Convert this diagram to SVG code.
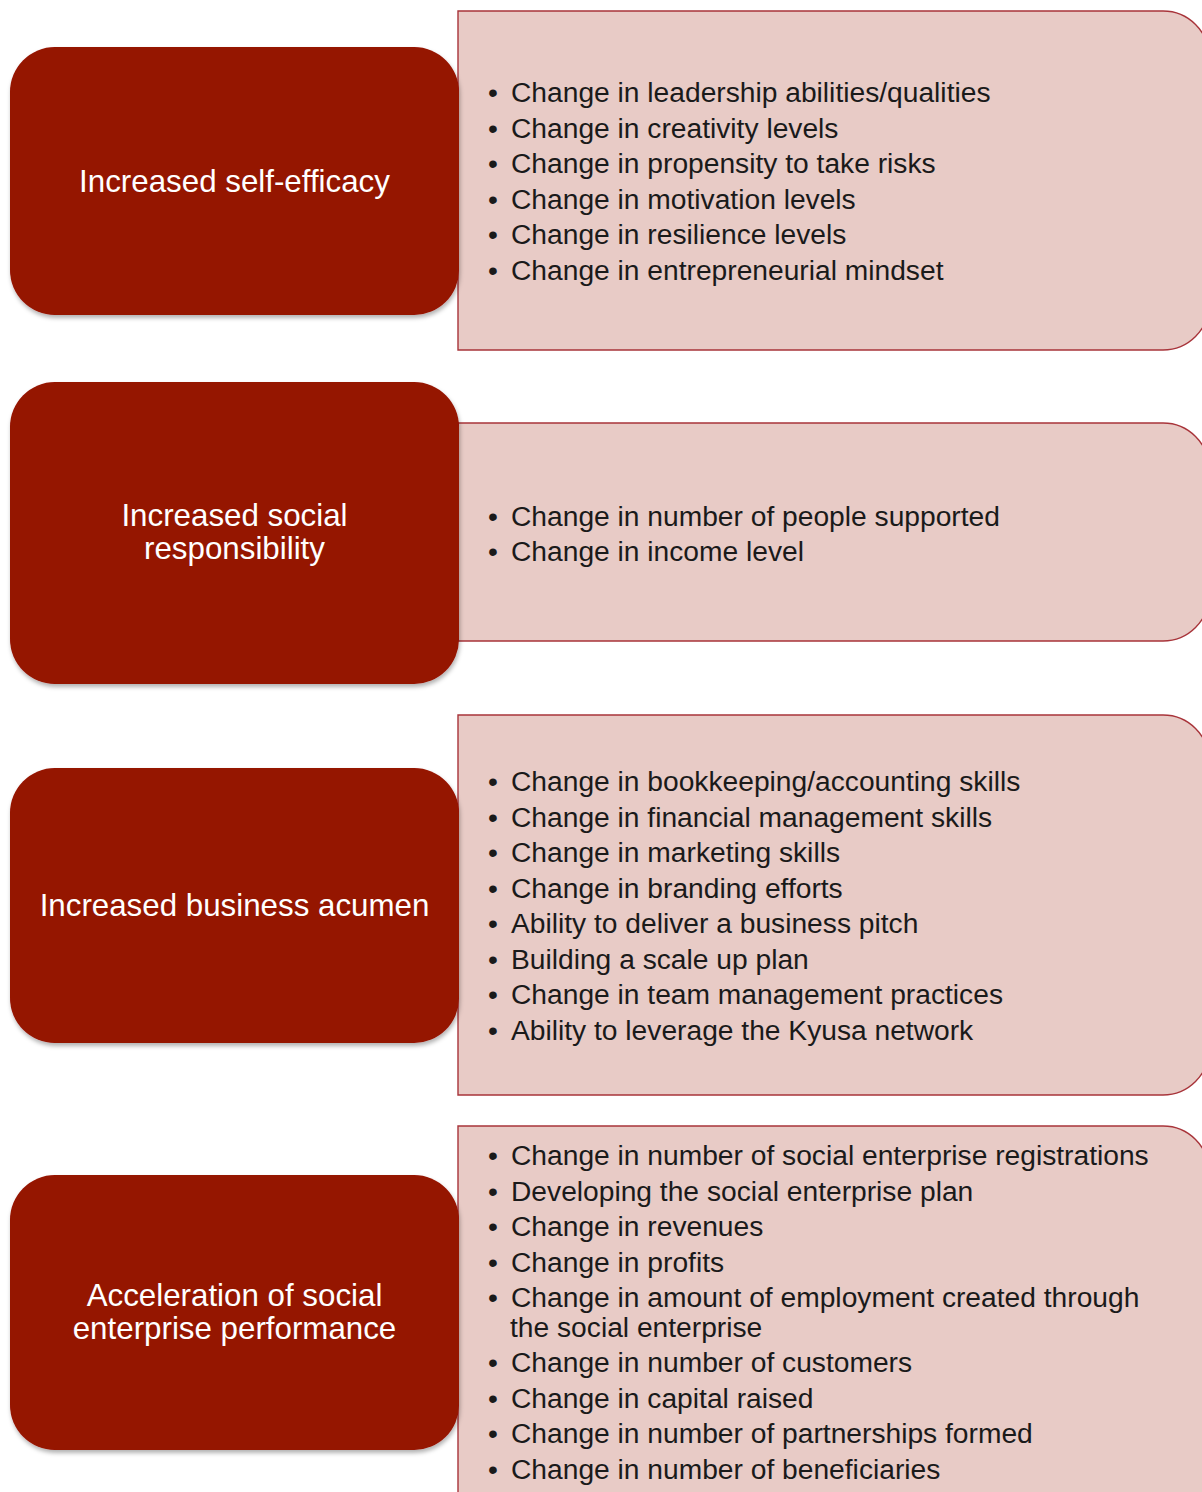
<svg xmlns="http://www.w3.org/2000/svg" width="1202" height="1492" viewBox="0 0 1202 1492">
  <style>
    .outcome { fill: #951300; filter: url(#shadow); }
    .detail { fill: #E8CBC6; stroke: #A8343A; stroke-width: 1.4; }
    .head { font-family: "Liberation Sans", Arial, sans-serif; font-size: 31.3px; fill: #ffffff; text-anchor: middle; }
    .item { font-family: "Liberation Sans", Arial, sans-serif; font-size: 28.2px; fill: #1a1a1a; }
    .dot { font-family: "Liberation Sans", Arial, sans-serif; font-size: 28.2px; fill: #1a1a1a; text-anchor: middle; }
  </style>
  <defs>
    <filter id="shadow" x="-5%" y="-5%" width="110%" height="115%">
      <feDropShadow dx="1" dy="3" stdDeviation="2" flood-color="#000000" flood-opacity="0.3"/>
    </filter>
  </defs>
  <rect width="1202" height="1492" fill="#ffffff"/>

  <!-- Outcome 1 -->
  <g id="self-efficacy">
    <path class="detail" d="M458,11 H1163 A46,46 0 0 1 1209,57 V304 A46,46 0 0 1 1163,350 H458 Z"/>
    <rect class="outcome" x="10" y="47" width="449" height="268" rx="45" ry="45"/>
    <text class="head" x="234.5" y="192">Increased self-efficacy</text>
    <g>
      <text class="dot" x="493" y="102">•</text><text class="item" x="511" y="102">Change in leadership abilities/qualities</text>
      <text class="dot" x="493" y="137.5">•</text><text class="item" x="511" y="137.5">Change in creativity levels</text>
      <text class="dot" x="493" y="173">•</text><text class="item" x="511" y="173">Change in propensity to take risks</text>
      <text class="dot" x="493" y="208.5">•</text><text class="item" x="511" y="208.5">Change in motivation levels</text>
      <text class="dot" x="493" y="244">•</text><text class="item" x="511" y="244">Change in resilience levels</text>
      <text class="dot" x="493" y="279.5">•</text><text class="item" x="511" y="279.5">Change in entrepreneurial mindset</text>
    </g>
  </g>

  <!-- Outcome 2 -->
  <g id="social-responsibility">
    <path class="detail" d="M458,423 H1163 A46,46 0 0 1 1209,469 V595 A46,46 0 0 1 1163,641 H458 Z"/>
    <rect class="outcome" x="10" y="382" width="449" height="302" rx="45" ry="45"/>
    <text class="head" x="234.5" y="526">Increased social</text>
    <text class="head" x="234.5" y="559">responsibility</text>
    <g>
      <text class="dot" x="493" y="526">•</text><text class="item" x="511" y="526">Change in number of people supported</text>
      <text class="dot" x="493" y="561">•</text><text class="item" x="511" y="561">Change in income level</text>
    </g>
  </g>

  <!-- Outcome 3 -->
  <g id="business-acumen">
    <path class="detail" d="M458,715 H1163 A46,46 0 0 1 1209,761 V1049 A46,46 0 0 1 1163,1095 H458 Z"/>
    <rect class="outcome" x="10" y="768" width="449" height="275" rx="45" ry="45"/>
    <text class="head" x="234.5" y="916">Increased business acumen</text>
    <g>
      <text class="dot" x="493" y="791">•</text><text class="item" x="511" y="791">Change in bookkeeping/accounting skills</text>
      <text class="dot" x="493" y="826.5">•</text><text class="item" x="511" y="826.5">Change in financial management skills</text>
      <text class="dot" x="493" y="862">•</text><text class="item" x="511" y="862">Change in marketing skills</text>
      <text class="dot" x="493" y="897.5">•</text><text class="item" x="511" y="897.5">Change in branding efforts</text>
      <text class="dot" x="493" y="933">•</text><text class="item" x="511" y="933">Ability to deliver a business pitch</text>
      <text class="dot" x="493" y="968.5">•</text><text class="item" x="511" y="968.5">Building a scale up plan</text>
      <text class="dot" x="493" y="1004">•</text><text class="item" x="511" y="1004">Change in team management practices</text>
      <text class="dot" x="493" y="1039.5">•</text><text class="item" x="511" y="1039.5">Ability to leverage the Kyusa network</text>
    </g>
  </g>

  <!-- Outcome 4 -->
  <g id="enterprise-performance">
    <path class="detail" d="M458,1126 H1163 A46,46 0 0 1 1209,1172 V1520 A46,46 0 0 1 1163,1566 H458 Z"/>
    <rect class="outcome" x="10" y="1175" width="449" height="275" rx="45" ry="45"/>
    <text class="head" x="234.5" y="1306">Acceleration of social</text>
    <text class="head" x="234.5" y="1339">enterprise performance</text>
    <g>
      <text class="dot" x="493" y="1165">•</text><text class="item" x="511" y="1165">Change in number of social enterprise registrations</text>
      <text class="dot" x="493" y="1200.5">•</text><text class="item" x="511" y="1200.5">Developing the social enterprise plan</text>
      <text class="dot" x="493" y="1236">•</text><text class="item" x="511" y="1236">Change in revenues</text>
      <text class="dot" x="493" y="1271.5">•</text><text class="item" x="511" y="1271.5">Change in profits</text>
      <text class="dot" x="493" y="1307">•</text><text class="item" x="511" y="1307">Change in amount of employment created through</text>
      <text class="item" x="510" y="1337">the social enterprise</text>
      <text class="dot" x="493" y="1372">•</text><text class="item" x="511" y="1372">Change in number of customers</text>
      <text class="dot" x="493" y="1407.5">•</text><text class="item" x="511" y="1407.5">Change in capital raised</text>
      <text class="dot" x="493" y="1443">•</text><text class="item" x="511" y="1443">Change in number of partnerships formed</text>
      <text class="dot" x="493" y="1478.5">•</text><text class="item" x="511" y="1478.5">Change in number of beneficiaries</text>
    </g>
  </g>
</svg>
